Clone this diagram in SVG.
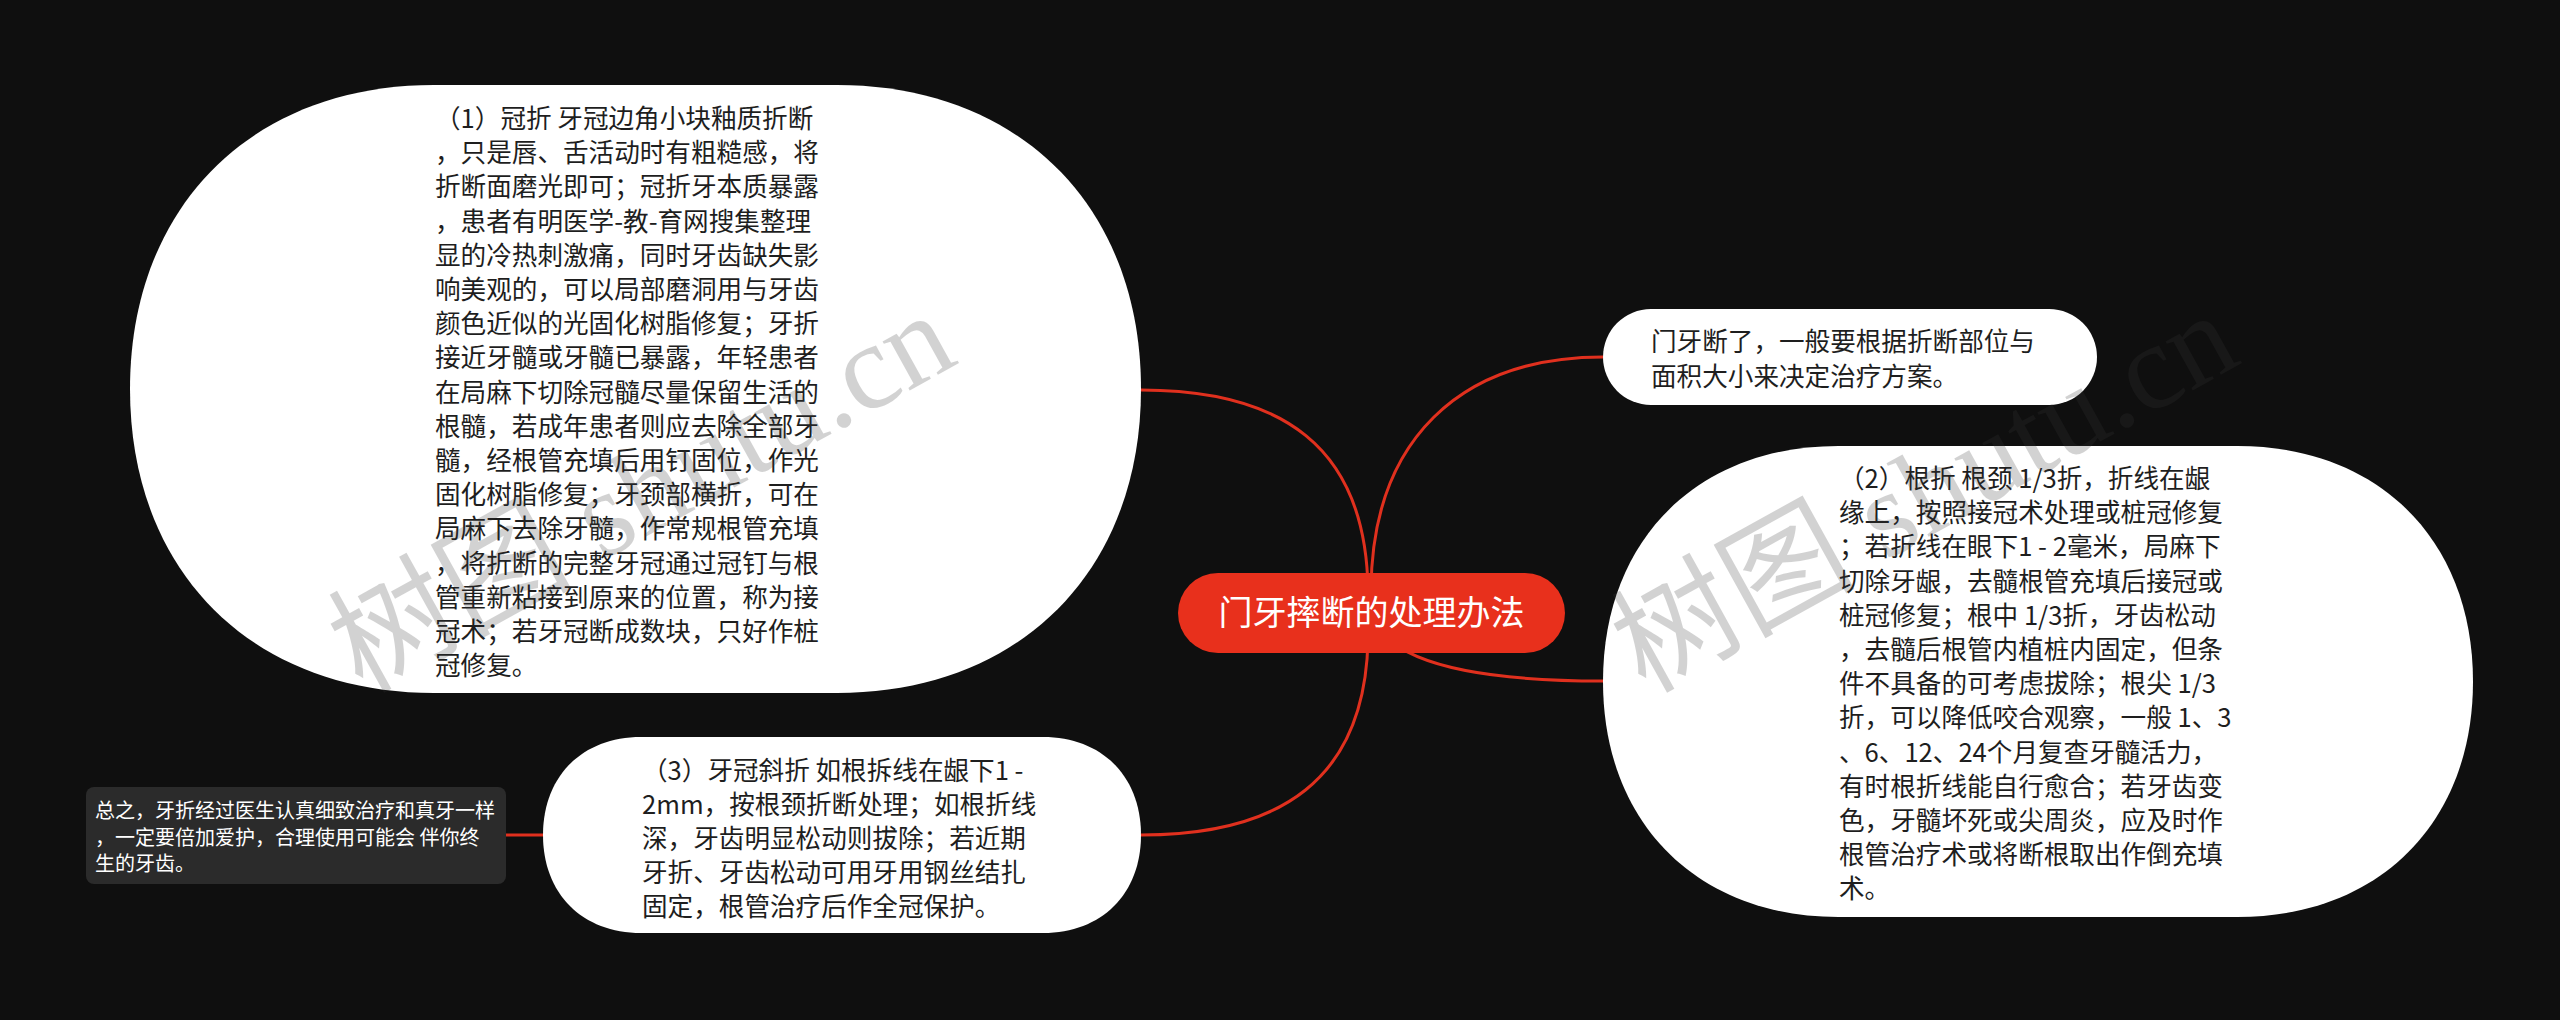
<svg xmlns="http://www.w3.org/2000/svg" width="2560" height="1020" viewBox="0 0 2560 1020">
<style>
.bg{fill:#0f0f0f}
.conn{fill:none;stroke:#e0301e;stroke-width:3}
.white{fill:#ffffff}
.t{font-family:"Noto Sans CJK SC","Liberation Sans",sans-serif;font-size:25.6px;fill:#1e1e1e}
.root{fill:#e8301c}
.roott{font-family:"Noto Sans CJK SC","Liberation Sans",sans-serif;font-size:34px;fill:#ffffff}
.dark{fill:#2b2b2b}
.dt{font-family:"Noto Sans CJK SC","Liberation Sans",sans-serif;font-size:20px;fill:#ffffff}
.wm{font-family:"Liberation Serif","Noto Sans CJK SC",serif;font-size:122px;fill:#383838;opacity:0.22}
</style>
<rect class="bg" x="0" y="0" width="2560" height="1020"/>
<g id="connectors">
<path class="conn" d="M1368,590 C1366,445 1280,390 1141,390"/>
<path class="conn" d="M1371,590 C1372,440 1460,357 1603,357"/>
<path class="conn" d="M1371,613 Q1390,681 1603,681"/>
<path class="conn" d="M1368,640 C1365,780 1280,835 1141,835"/>
<path class="conn" d="M506,835 H543"/>
</g>
<g id="node-crown">
<path class="white" d="M434,85 H837 C1019.4,85 1141,206.6 1141,389 C1141,571.4 1019.4,693 837,693 H434 C251.6,693 130,571.4 130,389 C130,206.6 251.6,85 434,85 Z"/>
<text class="t">
<tspan x="435" y="128">（1）冠折 牙冠边角小块釉质折断</tspan>
<tspan x="435" y="162.2">，只是唇、舌活动时有粗糙感，将</tspan>
<tspan x="435" y="196.4">折断面磨光即可；冠折牙本质暴露</tspan>
<tspan x="435" y="230.6">，患者有明医学-教-育网搜集整理</tspan>
<tspan x="435" y="264.8">显的冷热刺激痛，同时牙齿缺失影</tspan>
<tspan x="435" y="299">响美观的，可以局部磨洞用与牙齿</tspan>
<tspan x="435" y="333.2">颜色近似的光固化树脂修复；牙折</tspan>
<tspan x="435" y="367.4">接近牙髓或牙髓已暴露，年轻患者</tspan>
<tspan x="435" y="401.6">在局麻下切除冠髓尽量保留生活的</tspan>
<tspan x="435" y="435.8">根髓，若成年患者则应去除全部牙</tspan>
<tspan x="435" y="470">髓，经根管充填后用钉固位，作光</tspan>
<tspan x="435" y="504.2">固化树脂修复；牙颈部横折，可在</tspan>
<tspan x="435" y="538.4">局麻下去除牙髓，作常规根管充填</tspan>
<tspan x="435" y="572.6">，将折断的完整牙冠通过冠钉与根</tspan>
<tspan x="435" y="606.8">管重新粘接到原来的位置，称为接</tspan>
<tspan x="435" y="641">冠术；若牙冠断成数块，只好作桩</tspan>
<tspan x="435" y="675.2">冠修复。</tspan>
</text>
</g>
<g id="node-intro">
<rect class="white" x="1603" y="309" width="494" height="96" rx="48" ry="48"/>
<text class="t">
<tspan x="1651" y="351">门牙断了，一般要根据折断部位与</tspan>
<tspan x="1651" y="386">面积大小来决定治疗方案。</tspan>
</text>
</g>
<g id="node-root-fracture">
<path class="white" d="M1838.5,446 H2237.5 C2378.8,446 2473,540.2 2473,681.5 C2473,822.8 2378.8,917 2237.5,917 H1838.5 C1697.2,917 1603,822.8 1603,681.5 C1603,540.2 1697.2,446 1838.5,446 Z"/>
<text class="t">
<tspan x="1839" y="488">（2）根折 根颈 1/3折，折线在龈</tspan>
<tspan x="1839" y="522.2">缘上，按照接冠术处理或桩冠修复</tspan>
<tspan x="1839" y="556.4">；若折线在眼下1 - 2毫米，局麻下</tspan>
<tspan x="1839" y="590.6">切除牙龈，去髓根管充填后接冠或</tspan>
<tspan x="1839" y="624.8">桩冠修复；根中 1/3折，牙齿松动</tspan>
<tspan x="1839" y="659">，去髓后根管内植桩内固定，但条</tspan>
<tspan x="1839" y="693.2">件不具备的可考虑拔除；根尖 1/3</tspan>
<tspan x="1839" y="727.4">折，可以降低咬合观察，一般 1、3</tspan>
<tspan x="1839" y="761.6">、6、12、24个月复查牙髓活力，</tspan>
<tspan x="1839" y="795.8">有时根折线能自行愈合；若牙齿变</tspan>
<tspan x="1839" y="830">色，牙髓坏死或尖周炎，应及时作</tspan>
<tspan x="1839" y="864.2">根管治疗术或将断根取出作倒充填</tspan>
<tspan x="1839" y="898.4">术。</tspan>
</text>
</g>
<g id="node-oblique">
<path class="white" d="M641,737 H1043 C1101.8,737 1141,776.2 1141,835 C1141,893.8 1101.8,933 1043,933 H641 C582.2,933 543,893.8 543,835 C543,776.2 582.2,737 641,737 Z"/>
<text class="t">
<tspan x="642" y="780">（3）牙冠斜折 如根拆线在龈下1 -</tspan>
<tspan x="642" y="814">2mm，按根颈折断处理；如根折线</tspan>
<tspan x="642" y="848">深，牙齿明显松动则拔除；若近期</tspan>
<tspan x="642" y="882">牙折、牙齿松动可用牙用钢丝结扎</tspan>
<tspan x="642" y="916">固定，根管治疗后作全冠保护。</tspan>
</text>
</g>
<g id="node-summary">
<rect class="dark" x="86" y="787" width="420" height="97" rx="8" ry="8"/>
<text class="dt">
<tspan x="95" y="818">总之，牙折经过医生认真细致治疗和真牙一样</tspan>
<tspan x="95" y="845">，一定要倍加爱护，合理使用可能会 伴你终</tspan>
<tspan x="95" y="871">生的牙齿。</tspan>
</text>
</g>
<g id="node-root">
<rect class="root" x="1178" y="573" width="387" height="80" rx="40" ry="40"/>
<text class="roott" x="1371.5" y="625" text-anchor="middle">门牙摔断的处理办法</text>
</g>
<g id="watermark">
<text class="wm" x="362" y="694" transform="rotate(-29 362 694)">树图 shutu.cn</text>
<text class="wm" x="1645" y="694" transform="rotate(-29 1645 694)">树图 shutu.cn</text>
</g>
</svg>
